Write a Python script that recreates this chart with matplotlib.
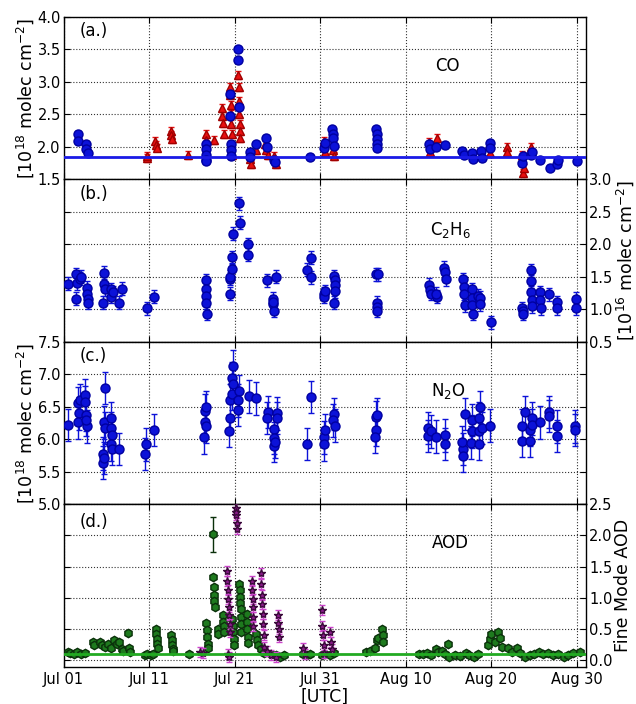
import numpy as np
import pandas as pd
import matplotlib
matplotlib.use("Agg")
import matplotlib.pyplot as plt
import matplotlib.dates as mdates

plt.rcParams['font.family'] = ['DejaVu Sans']
plt.rcParams['mathtext.fontset'] = 'dejavusans'

BASE = pd.Timestamp('2013-07-01')

# ---------------- (a) CO ----------------
co_blue_day = [1.7, 1.7, 2.6, 2.6, 2.8,
               16.6, 16.6, 16.6, 16.6, 16.7,
               19.5, 19.5, 19.6, 19.6, 19.6,
               20.4, 20.4, 20.5,
               21.8, 21.8, 22.5, 23.7, 23.8, 24.6, 24.7,
               28.8,
               30.5, 30.6, 31.4, 31.5, 31.5, 31.6,
               36.5, 36.6, 36.6, 36.7, 36.7,
               42.7, 42.8, 43.5, 44.6,
               46.6, 46.8, 47.7, 47.9, 48.8, 48.9, 49.8, 49.9,
               53.6, 53.7, 54.6, 54.8, 55.7, 56.9, 57.7, 57.8, 60.0]
co_blue_val = [2.20, 2.09, 2.05, 1.96, 1.90,
               2.05, 1.97, 1.88, 1.80, 1.78,
               2.82, 2.48, 2.05, 1.95, 1.86,
               3.50, 3.34, 2.62,
               1.92, 1.85, 2.04, 2.14, 2.00, 1.80, 1.76,
               1.85,
               1.98, 2.06, 2.27, 2.20, 2.14, 2.02,
               2.27, 2.20, 2.12, 2.04, 1.98,
               2.04, 1.96, 2.00, 2.03,
               1.93, 1.87, 1.90, 1.82, 1.93, 1.83, 2.06, 1.98,
               1.75, 1.86, 1.87, 1.92, 1.80, 1.68, 1.73, 1.80, 1.78]
co_blue_err = 0.04

co_red_day = [9.7, 9.8, 10.7, 10.8, 10.9, 12.5, 12.6, 12.7, 14.5,
              16.7, 16.7, 17.6, 18.5, 18.5, 18.6, 18.7,
              19.5, 19.5, 19.6, 19.6, 19.6, 19.7, 19.7,
              20.4, 20.5, 20.5, 20.5, 20.6, 20.6, 20.6,
              21.8, 21.9, 22.5, 23.6, 23.7, 23.9, 24.6, 24.8,
              30.4, 30.6, 31.5, 31.6,
              42.7, 42.8, 43.6, 49.8, 51.8, 51.9, 53.6, 53.7, 53.8, 54.7]
co_red_val = [1.83, 1.86, 2.09, 2.03, 1.99, 2.25, 2.18, 2.12, 1.88,
              2.20, 2.10, 2.11, 2.60, 2.48, 2.37, 2.20,
              2.92, 2.80, 2.65, 2.50, 2.35, 2.20, 1.88,
              3.10, 2.92, 2.70, 2.50, 2.35, 2.24, 2.14,
              1.82, 1.73, 1.95, 2.05, 1.95, 1.88, 1.86, 1.73,
              2.09, 1.92, 1.95, 1.86,
              2.08, 1.92, 2.14, 1.90, 2.00, 1.92, 1.87, 1.60, 1.68, 2.00]
co_red_err = 0.06
co_ref = 1.85

# ---------------- (b) C2H6 ----------------
c2h6_day = [0.5, 1.5, 1.6, 1.5, 1.9, 2.0, 2.7, 2.7, 2.8, 2.8,
            4.7, 4.7, 4.8, 4.6, 5.6, 5.6, 5.8, 6.5, 6.8,
            9.7, 10.6,
            16.6, 16.6, 16.7, 16.7, 16.8,
            19.4, 19.5, 19.5, 19.7, 19.7, 19.8,
            20.5, 20.6, 21.6, 21.6,
            23.8, 24.5, 24.5, 24.6, 24.5, 24.8,
            28.4, 28.9, 28.9,
            30.5, 30.4, 30.6, 31.6, 31.7, 31.7, 31.7, 31.6,
            36.5, 36.8, 36.6, 36.6, 36.6,
            42.7, 42.8, 42.9, 43.6, 43.5,
            44.5, 44.6, 44.7,
            46.7, 46.8, 46.8, 46.9,
            47.7, 47.8, 47.8, 47.9,
            48.5, 48.7, 48.7,
            50.0,
            53.6, 53.7, 53.7,
            54.6, 54.7, 54.7, 54.8, 54.8,
            55.7, 55.7, 55.8,
            56.8, 57.7, 57.7, 59.9, 59.9]
c2h6_val = [1.39, 1.54, 1.40, 1.16, 1.47, 1.50, 1.33, 1.24, 1.16, 1.10,
            1.56, 1.39, 1.31, 1.10, 1.31, 1.19, 1.26, 1.10, 1.32,
            1.02, 1.19,
            1.45, 1.31, 1.21, 1.10, 0.93,
            1.47, 1.50, 1.24, 1.62, 1.80, 2.16,
            2.63, 2.33, 2.00, 1.84,
            1.45, 1.16, 1.08, 0.98, 1.12, 1.50,
            1.61, 1.79, 1.49,
            1.24, 1.19, 1.28, 1.51, 1.45, 1.38, 1.28, 1.10,
            1.54, 1.54, 1.10, 1.04, 0.98,
            1.38, 1.30, 1.24, 1.19, 1.24,
            1.64, 1.57, 1.46,
            1.46, 1.35, 1.24, 1.06,
            1.31, 1.18, 1.06, 0.93,
            1.21, 1.18, 1.08,
            0.80,
            1.02, 0.97, 0.93,
            1.26, 1.43, 1.60, 1.14, 1.05,
            1.26, 1.14, 1.02,
            1.23, 1.11, 1.02, 1.16, 1.02]
c2h6_err = 0.10

# ---------------- (c) N2O ----------------
n2o_day = [0.5, 1.7, 1.8, 1.7, 1.9, 2.5, 2.5, 2.6, 2.7, 2.6,
           4.8, 4.7, 4.8, 4.6, 4.6, 4.7,
           5.6, 5.6, 5.7, 5.6, 5.7,
           6.5, 9.6, 9.5, 10.6,
           16.5, 16.5, 16.6, 16.4, 16.7,
           19.4, 19.4, 19.3, 19.8, 19.7, 19.8, 19.7,
           20.5, 20.4, 20.4,
           21.7, 22.5,
           23.9, 23.8, 24.6, 24.6, 24.6, 24.7, 24.9, 24.9,
           28.4, 28.9,
           30.5, 30.4, 30.6, 31.6, 31.5, 31.7,
           36.5, 36.7, 36.5, 36.4,
           42.6, 42.6, 43.0, 43.5, 44.6, 44.6,
           46.7, 46.7, 46.6, 46.9,
           47.7, 47.6, 47.8,
           48.7, 48.6, 48.6, 48.6, 48.9,
           49.9,
           53.6, 53.6, 54.0, 54.5, 54.5, 54.8, 54.8,
           55.7, 56.8, 56.8, 57.7, 57.7, 59.8, 59.8]
n2o_val = [6.22, 6.56, 6.40, 6.26, 6.60, 6.68, 6.57, 6.38, 6.20, 6.30,
           6.79, 6.26, 6.17, 5.78, 5.64, 5.71,
           6.33, 6.17, 6.07, 5.92, 5.85,
           5.85, 5.92, 5.77, 6.14,
           6.44, 6.27, 6.20, 6.03, 6.50,
           6.60, 6.33, 6.13, 7.12, 6.94, 6.85, 6.70,
           6.74, 6.60, 6.45,
           6.66, 6.63,
           6.42, 6.33, 6.16, 6.02, 5.90, 5.96, 6.40, 6.33,
           5.93, 6.65,
           6.03, 5.92, 6.14, 6.39, 6.29, 6.21,
           6.34, 6.38, 6.14, 6.04,
           6.17, 6.05, 6.12, 6.04, 6.06, 5.93,
           5.85, 5.74, 5.96, 6.39,
           6.12, 5.95, 6.30,
           6.50, 6.32, 6.12, 5.93, 6.17,
           6.21,
           6.21, 5.97, 6.42, 6.14, 5.97, 6.32, 6.22,
           6.26, 6.42, 6.36, 6.20, 6.05, 6.20, 6.14]
n2o_err = 0.25

# ---------------- (d) AOD ----------------
aod_day = [0.5, 0.8, 1.2, 1.6, 2.0, 2.5,
           3.4, 3.6, 4.2, 4.5, 4.8, 5.2, 5.6, 5.9, 6.2, 6.5, 6.8, 7.0, 7.5, 7.6, 7.8,
           9.5, 9.8, 10.2, 10.5, 10.8, 10.8, 10.9, 10.9, 11.0,
           12.6, 12.7, 12.7, 12.8, 12.8,
           14.7,
           16.7, 16.8, 16.8, 16.9, 16.9,
           17.5, 17.5, 17.6, 17.6, 17.6, 17.7,
           18.0, 18.1,
           18.6, 18.6, 18.7, 18.7,
           19.7, 19.8, 19.8, 19.9, 19.9,
           20.5, 20.6, 20.6, 20.6, 20.7, 20.7, 20.7, 20.8,
           21.4, 21.5, 21.5, 21.6, 21.6,
           22.5, 22.6, 22.7, 23.1, 23.4,
           24.3, 24.8, 25.3, 25.8,
           28.0, 28.4, 28.8,
           30.2, 30.6, 31.2, 31.6,
           35.4, 35.8, 36.4, 36.6, 36.8, 37.2, 37.3, 37.4,
           41.5, 42.0, 42.5, 43.0, 43.5, 43.8, 44.3, 44.6, 45.0, 45.1, 45.8, 46.3,
           47.0, 47.4, 48.0, 48.5,
           49.6, 49.8, 50.0, 50.4, 50.8, 51.0, 51.2, 52.0, 52.4, 53.0, 53.4,
           54.0, 54.5, 55.0, 55.6, 56.0, 56.6, 57.2, 57.8, 58.5, 59.0, 59.6, 60.4]
aod_val = [0.14, 0.12, 0.10, 0.13, 0.11, 0.12,
           0.29, 0.25, 0.30, 0.24, 0.22, 0.27, 0.20, 0.32, 0.26, 0.30, 0.18, 0.15, 0.44, 0.20, 0.14,
           0.08, 0.10, 0.09, 0.10, 0.50, 0.42, 0.34, 0.27, 0.20,
           0.40, 0.32, 0.25, 0.19, 0.15,
           0.10,
           0.60, 0.48, 0.37, 0.27, 0.20,
           2.02, 1.33, 1.17, 1.05, 0.95, 0.85,
           0.50, 0.42,
           0.72, 0.62, 0.55, 0.45,
           0.67, 0.55, 0.45, 0.35, 0.25,
           1.22, 1.12, 1.02, 0.92, 0.82, 0.70, 0.58, 0.45,
           0.74, 0.62, 0.50, 0.38, 0.28,
           0.43, 0.33, 0.25, 0.18, 0.12,
           0.10, 0.08, 0.06, 0.08,
           0.10, 0.08, 0.10,
           0.08, 0.10, 0.09, 0.12,
           0.13, 0.15, 0.20, 0.33, 0.36, 0.50, 0.40, 0.30,
           0.11, 0.10, 0.12, 0.08, 0.19, 0.13, 0.15, 0.10, 0.26, 0.05, 0.09, 0.07,
           0.12, 0.08, 0.06, 0.11,
           0.25, 0.35, 0.42, 0.30, 0.45, 0.36, 0.22, 0.20, 0.14, 0.20, 0.12,
           0.06, 0.08, 0.10, 0.14, 0.10, 0.12, 0.08, 0.10, 0.05, 0.08, 0.12, 0.14]
aod_err = 0.03
aod_big_err = 0.28   # the isolated point near 2.0

fine_day = [16.0, 16.3,
            19.1, 19.1, 19.2, 19.2, 19.3, 19.3, 19.4, 19.4, 19.2, 19.3,
            20.2, 20.2, 20.3, 20.3, 20.2,
            22.0, 22.0, 22.1, 22.1, 22.2, 22.2,
            23.1, 23.1, 23.2, 23.2, 23.3, 23.3, 23.4, 23.4,
            23.8, 24.3, 24.8,
            25.1, 25.1, 25.2, 25.2,
            28.0, 28.2,
            30.2, 30.2, 30.3, 30.4, 30.5, 31.2, 31.3, 31.4]
fine_val = [0.13, 0.12,
            1.43, 1.27, 1.12, 0.98, 0.85, 0.72, 0.58, 0.45, 0.10, 0.05,
            2.44, 2.32, 2.20, 2.10, 2.38,
            1.27, 1.12, 0.98, 0.85, 0.70, 0.55,
            1.40, 1.22, 1.05, 0.90, 0.75, 0.58, 0.40, 0.22,
            0.15, 0.08, 0.05,
            0.72, 0.60, 0.50, 0.38,
            0.20, 0.10,
            0.80, 0.55, 0.40, 0.25, 0.12, 0.45, 0.30, 0.18]
fine_err = 0.08
aod_ref = 0.10

xticks = ['2013-07-01', '2013-07-11', '2013-07-21', '2013-07-31',
          '2013-08-10', '2013-08-20', '2013-08-30']


def to_dates(days):
    return BASE + pd.to_timedelta(np.asarray(days, dtype=float), unit='D')


fig, axes = plt.subplots(4, 1, sharex=True, figsize=(6.36, 7.04), dpi=100)
fig.subplots_adjust(left=0.100, right=0.922, top=0.976, bottom=0.053, hspace=0)

blue = '#0c12d8'
blue_edge = '#0000a0'
red = '#e81010'
red_edge = '#a00000'

for ax in axes:
    ax.tick_params(direction='in', which='both', top=True, labelsize=10.5, length=4, pad=2)
    ax.grid(True, linestyle=':', color='#333333', linewidth=0.8)
    for s in ax.spines.values():
        s.set_linewidth(1.0)

# (a)
ax = axes[0]
ax.errorbar(to_dates(co_red_day), co_red_val, yerr=co_red_err, fmt='^', color=red,
            mec=red_edge, ms=6, ecolor=red, elinewidth=1, capsize=2, zorder=3)
ax.errorbar(to_dates(co_blue_day), co_blue_val, yerr=co_blue_err, fmt='o', color=blue,
            mec=blue_edge, ms=6.5, ecolor=blue, elinewidth=1, capsize=2, zorder=4)
ax.axhline(co_ref, color='#1a1ae6', lw=2, zorder=5)
ax.set_ylim(1.5, 4.0)
ax.set_yticks([1.5, 2.0, 2.5, 3.0, 3.5, 4.0])
ax.set_ylabel('[10$^{18}$ molec cm$^{-2}$]', fontsize=12.5, labelpad=1)
ax.tick_params(axis='y', right=True)
ax.spines['bottom'].set_color('#888888')
ax.text(0.03, 0.88, '(a.)', transform=ax.transAxes, fontsize=12)
ax.text(0.735, 0.70, 'CO', transform=ax.transAxes, fontsize=12, ha='center', va='center')

# (b)
ax = axes[1]
ax.errorbar(to_dates(c2h6_day), c2h6_val, yerr=c2h6_err, fmt='o', color=blue,
            mec=blue_edge, ms=6.5, ecolor=blue, elinewidth=1, capsize=2, zorder=4)
ax.set_ylim(0.5, 3.0)
ax.set_yticks([0.5, 1.0, 1.5, 2.0, 2.5, 3.0])
ax.yaxis.tick_right()
ax.yaxis.set_label_position('right')
ax.tick_params(axis='y', left=True, labelleft=False)
ax.set_ylabel('[10$^{16}$ molec cm$^{-2}$]', fontsize=12.5, labelpad=1)
ax.text(0.03, 0.88, '(b.)', transform=ax.transAxes, fontsize=12)
ax.text(0.74, 0.69, 'C$_2$H$_6$', transform=ax.transAxes, fontsize=12, ha='center', va='center')

# (c)
ax = axes[2]
ax.errorbar(to_dates(n2o_day), n2o_val, yerr=n2o_err, fmt='o', color=blue,
            mec=blue_edge, ms=6.5, ecolor=blue, elinewidth=1, capsize=2, zorder=4)
ax.set_ylim(5.0, 7.5)
ax.set_yticks([5.0, 5.5, 6.0, 6.5, 7.0, 7.5])
ax.set_ylabel('[10$^{18}$ molec cm$^{-2}$]', fontsize=12.5, labelpad=1)
ax.tick_params(axis='y', right=True)
ax.text(0.03, 0.88, '(c.)', transform=ax.transAxes, fontsize=12)
ax.text(0.735, 0.70, 'N$_2$O', transform=ax.transAxes, fontsize=12, ha='center', va='center')

# (d)
ax = axes[3]
green = '#1e7a1e'
green_edge = '#0a300a'
purple = '#8a1a8a'
aod_errs = [aod_big_err if v > 1.9 else aod_err for v in aod_val]
ax.errorbar(to_dates(aod_day), aod_val, yerr=aod_errs, fmt='h', color=green,
            mec=green_edge, ms=6, ecolor=green_edge, elinewidth=1, capsize=2, zorder=3)
ax.errorbar(to_dates(fine_day), fine_val, yerr=fine_err, fmt='*', color=purple,
            mec='#3a0a3a', ms=6, ecolor='#cc44cc', elinewidth=1, capsize=2, zorder=4)
ax.axhline(aod_ref, color='#22aa22', lw=2, zorder=5)
ax.set_ylim(-0.1, 2.5)
ax.set_yticks([0.0, 0.5, 1.0, 1.5, 2.0, 2.5])
ax.yaxis.tick_right()
ax.yaxis.set_label_position('right')
ax.tick_params(axis='y', left=True, labelleft=False)
ax.set_ylabel('Fine Mode AOD', fontsize=12.5, labelpad=1)
ax.text(0.03, 0.86, '(d.)', transform=ax.transAxes, fontsize=12)
ax.text(0.74, 0.76, 'AOD', transform=ax.transAxes, fontsize=12, ha='center', va='center')

ax.set_xlim(pd.Timestamp('2013-07-01'), pd.Timestamp('2013-08-31 03:00'))
ax.set_xticks(pd.to_datetime(xticks))
ax.xaxis.set_major_formatter(mdates.DateFormatter('%b %d'))
ax.tick_params(axis='x', pad=4)
ax.set_xlabel('[UTC]', fontsize=12.5, labelpad=0)

fig.savefig('out.png', dpi=100)
